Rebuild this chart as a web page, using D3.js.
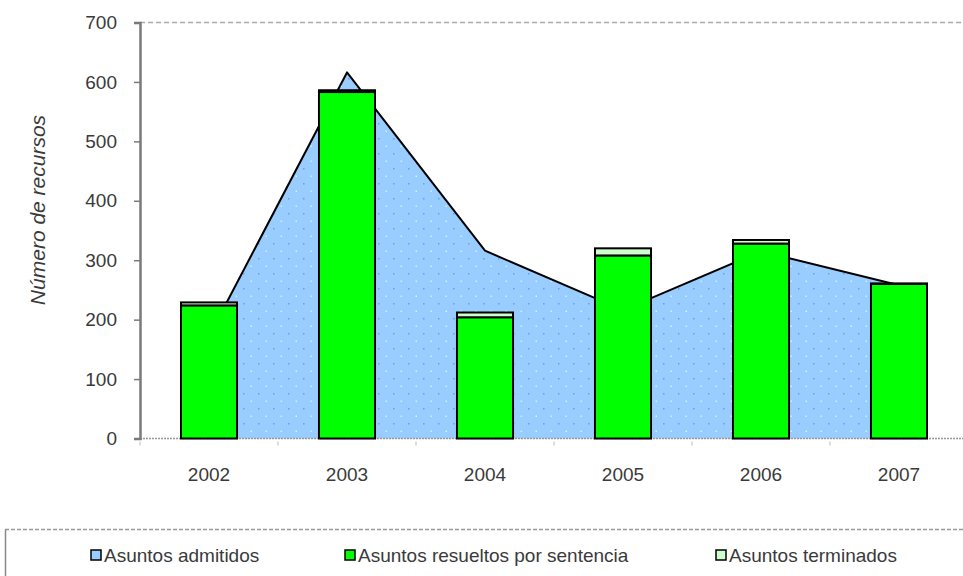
<!DOCTYPE html>
<html><head><meta charset="utf-8">
<script src="https://cdn.jsdelivr.net/npm/d3@7"></script>
<style>
html,body{margin:0;padding:0;background:#fff;}
svg{display:block;font-family:Arial,"Liberation Sans",sans-serif;}
</style></head>
<body>
<svg id="c" width="963" height="576"></svg>
<script>
const years = ["2002","2003","2004","2005","2006","2007"];
const admitidos = [172, 616, 316, 216, 315, 258];
const resueltos = [224, 583, 204, 308, 328, 260];
const terminados = [5, 3, 8, 12, 6, 1];
const yTicks = [0,100,200,300,400,500,600,700];
const legendLabels = ["Asuntos admitidos","Asuntos resueltos por sentencia","Asuntos terminados"];
const colors = ["#99CCFF","#00FF00","#CCFFCC"];

(function(){
const svg = d3.select("#c");
const pLeft = 140, pRight = 968, pTop = 22.5, pBottom = 438.5;
const x = d3.scaleBand().domain(years).range([pLeft, pRight]).paddingInner(0.594).paddingOuter(0.297);
const y = d3.scaleLinear().domain([0,700]).range([pBottom, pTop]);
const textCol = "#3a3a3a";

// pattern for area
const defs = svg.append("defs");
const pat = defs.append("pattern").attr("id","dots").attr("patternUnits","userSpaceOnUse")
  .attr("width",15).attr("height",15);
pat.append("rect").attr("width",15).attr("height",15).attr("fill",colors[0]);
pat.append("rect").attr("x",3).attr("y",3).attr("width",1.5).attr("height",1.5).attr("fill","#6f9cf0");
pat.append("rect").attr("x",10.5).attr("y",10.5).attr("width",1.5).attr("height",1.5).attr("fill","#c8f4ff");

// top border
svg.append("line").attr("x1",pLeft).attr("x2",963).attr("y1",pTop).attr("y2",pTop)
  .attr("stroke","#aaa").attr("stroke-width",1.5).attr("stroke-dasharray","5,3");

// area
const cx = d => x(d) + x.bandwidth()/2;
const pts = years.map((d,i)=>({k:d, v:admitidos[i]}));
const area = d3.area().x(d=>cx(d.k)).y0(y(0)).y1(d=>y(d.v));
svg.append("path").datum(pts).attr("d",area).attr("fill","url(#dots)");
svg.append("path").datum(pts).attr("d",d3.line().x(d=>cx(d.k)).y(d=>y(d.v)))
  .attr("fill","none").attr("stroke","#000").attr("stroke-width",2).attr("stroke-linejoin","round");

// x baseline dotted
svg.append("line").attr("x1",pLeft).attr("x2",963).attr("y1",pBottom).attr("y2",pBottom)
  .attr("stroke","#999").attr("stroke-width",1.5).attr("stroke-dasharray","2,1");

// bars
const g = svg.append("g");
years.forEach((d,i)=>{
  g.append("rect").attr("x",x(d)).attr("width",x.bandwidth())
    .attr("y",y(resueltos[i])).attr("height",y(0)-y(resueltos[i]))
    .attr("fill",colors[1]).attr("stroke","#000").attr("stroke-width",2);
  const t0 = resueltos[i], t1 = resueltos[i]+terminados[i];
  g.append("rect").attr("x",x(d)).attr("width",x.bandwidth())
    .attr("y",y(t1)).attr("height",y(t0)-y(t1))
    .attr("fill",colors[2]).attr("stroke","#000").attr("stroke-width",2);
});

// y axis
const ya = svg.append("g").attr("transform",`translate(${pLeft},0)`)
  .call(d3.axisLeft(y).tickValues(yTicks).tickSize(6).tickPadding(17));
ya.select(".domain").attr("stroke","#7a7a7a").attr("stroke-width",2.5);
ya.selectAll(".tick line").attr("stroke","#7a7a7a").attr("stroke-width",1.5);
ya.selectAll(".tick text").attr("font-size",19).attr("fill",textCol).attr("font-family","Arial,'Liberation Sans',sans-serif");

// x axis ticks (small, between categories) and labels
const bounds = years.map(d=>x(d) - x.step()*x.paddingInner()/2).concat([pRight]);
svg.selectAll(".xt").data(bounds).join("line").attr("class","xt")
  .attr("x1",d=>d).attr("x2",d=>d).attr("y1",pBottom+3).attr("y2",pBottom+7)
  .attr("stroke","#bbb").attr("stroke-width",1);
const xa = svg.append("g").attr("transform",`translate(0,${pBottom})`)
  .call(d3.axisBottom(x).tickSize(0).tickPadding(29));
xa.select(".domain").remove();
xa.selectAll(".tick text").attr("font-size",19).attr("fill",textCol).attr("font-family","Arial,'Liberation Sans',sans-serif");

// y title
svg.append("text").attr("transform","translate(45,210) rotate(-90)")
  .attr("text-anchor","middle").attr("font-style","italic").attr("font-size",21)
  .attr("fill",textCol).text("Número de recursos");

// legend box
svg.append("line").attr("x1",5).attr("x2",963).attr("y1",529.5).attr("y2",529.5)
  .attr("stroke","#999").attr("stroke-width",1.5).attr("stroke-dasharray","4,2");
svg.append("line").attr("x1",5.5).attr("x2",5.5).attr("y1",529.5).attr("y2",576)
  .attr("stroke","#888").attr("stroke-width",1.5);
const lx = [91, 345, 716];
legendLabels.forEach((lab,i)=>{
  svg.append("rect").attr("x",lx[i]).attr("y",550).attr("width",10).attr("height",10)
    .attr("fill",colors[i]).attr("stroke","#000").attr("stroke-width",1.5);
  svg.append("text").attr("x",lx[i]+13).attr("y",562).attr("font-size",19)
    .attr("fill",textCol).text(lab);
});
})();
</script>
</body></html>
